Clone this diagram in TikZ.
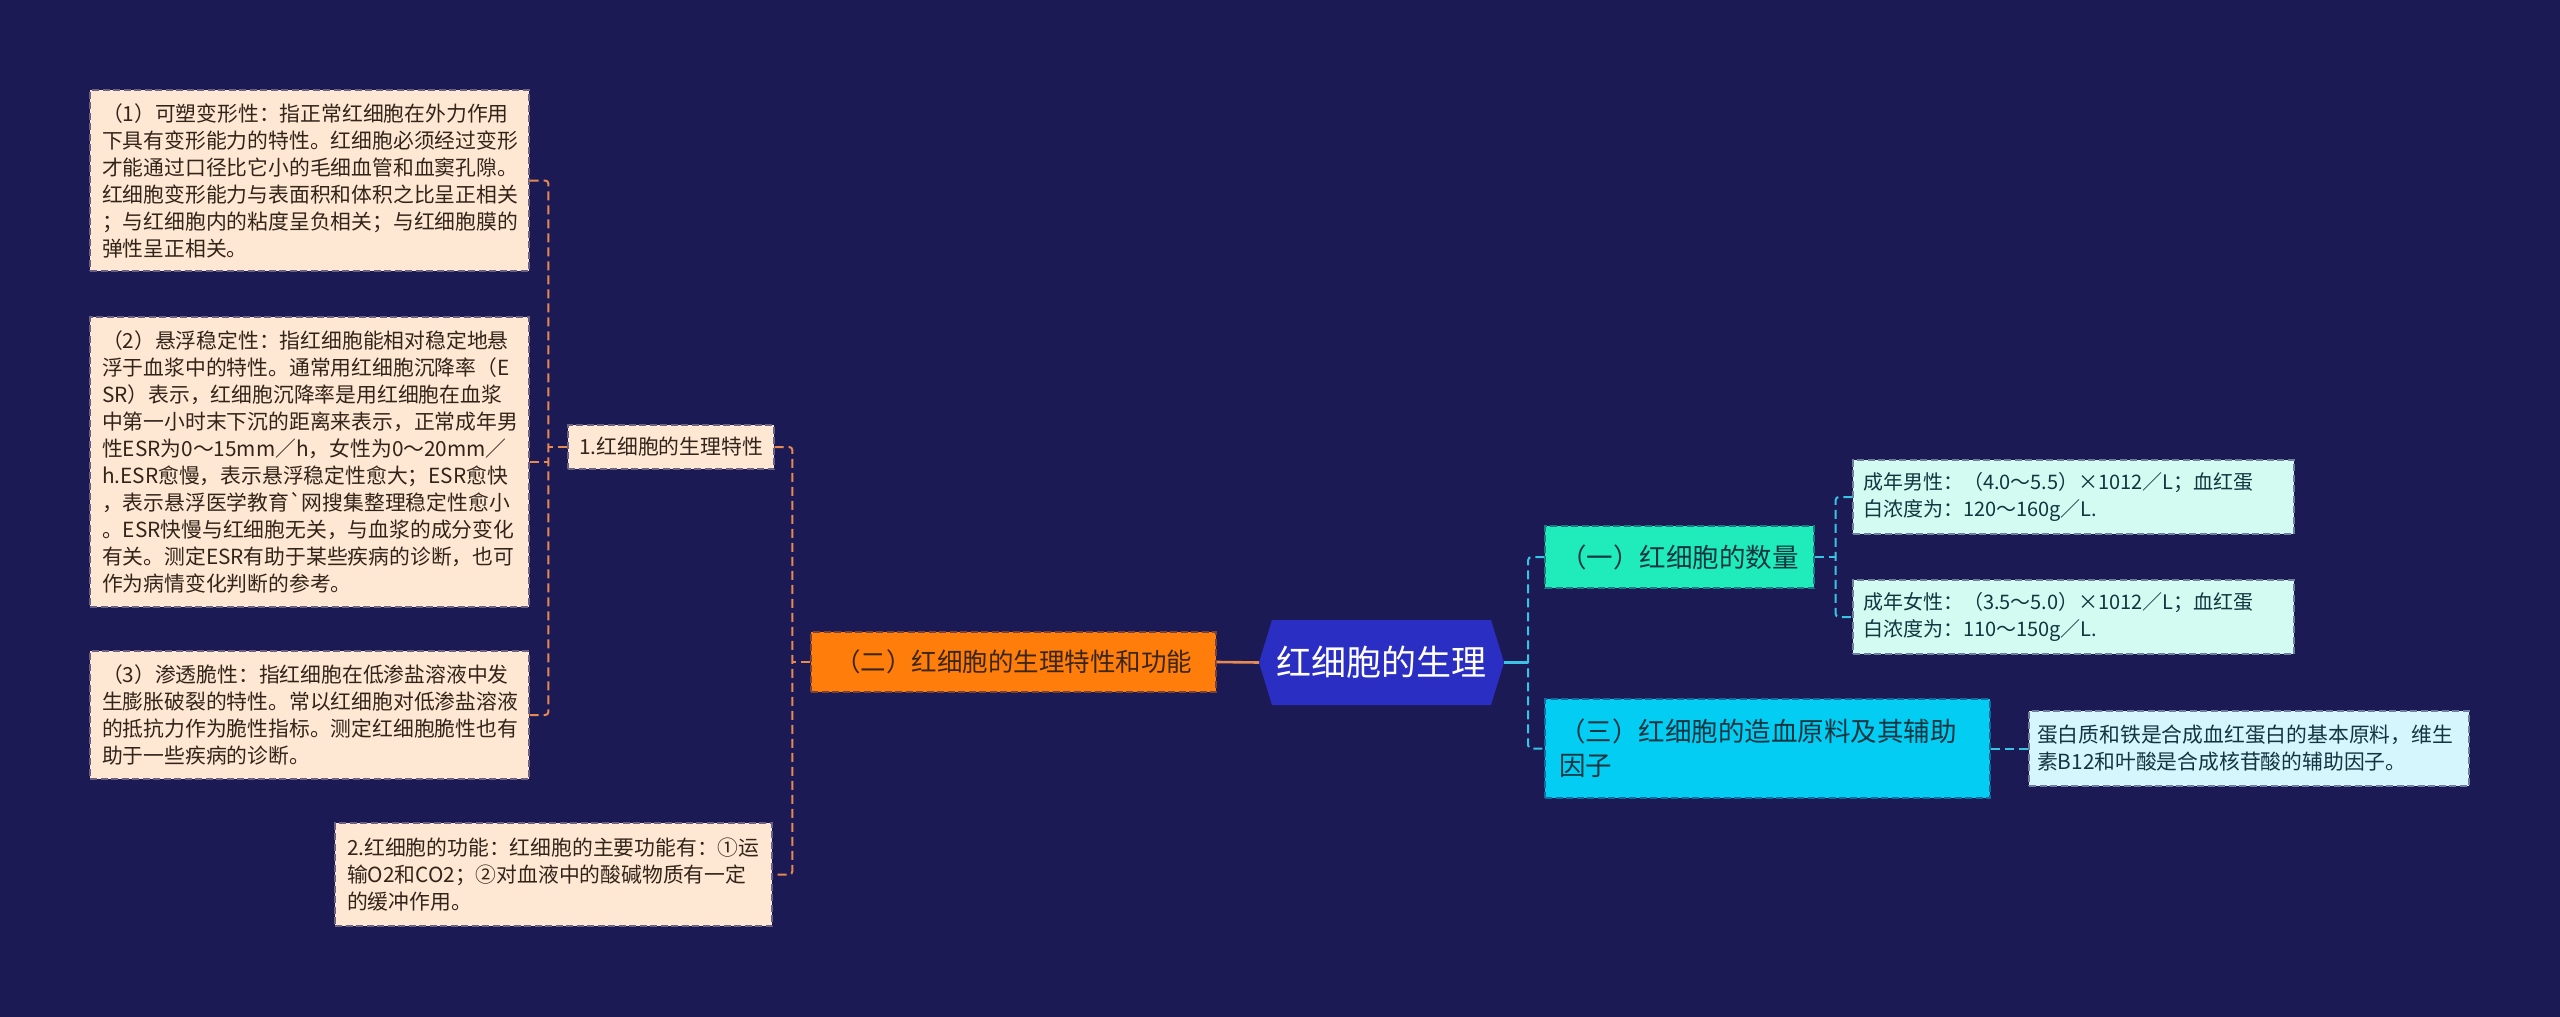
\documentclass[tikz,border=0pt]{standalone}
\usepackage{fontspec}
\setmainfont{Noto Sans CJK SC}
\usetikzlibrary{calc}
\definecolor{bgc}{HTML}{1C1A55}
\definecolor{peachc}{HTML}{FEE8D3}
\definecolor{peacht}{HTML}{33241A}
\definecolor{orangec}{HTML}{FF7D0A}
\definecolor{oranget}{HTML}{3A2614}
\definecolor{rootc}{HTML}{2B2EC2}
\definecolor{greenc}{HTML}{20ECBB}
\definecolor{cyanc}{HTML}{04CDF3}
\definecolor{mintc}{HTML}{D4FBF1}
\definecolor{lcyanc}{HTML}{D6F6FD}
\definecolor{darkt}{HTML}{123540}
\definecolor{lcol}{HTML}{E88A4F}
\definecolor{rcol}{HTML}{39C4E3}
\tikzset{
  basebox/.style={rectangle, line width=1.4pt, dash pattern=on 7pt off 3.5pt, inner ysep=0pt, align=left},
  peachbox/.style={basebox, fill=peachc, draw=bgc!65!peachc, text=peacht, inner xsep=12pt, font=\fontsize{20.8}{27}\selectfont},
  mintbox/.style={basebox, fill=mintc, draw=bgc!55!mintc, text=darkt, inner xsep=10pt, font=\fontsize{20}{27}\selectfont},
  lcyanbox/.style={basebox, fill=lcyanc, draw=bgc!55!lcyanc, text=darkt, inner xsep=8pt, font=\fontsize{20.8}{27}\selectfont},
  orangebox/.style={basebox, fill=orangec, draw=bgc!60!orangec, text=oranget, inner xsep=12pt, font=\fontsize{25.5}{32}\selectfont},
  greenbox/.style={basebox, fill=greenc, draw=bgc!55!greenc, text=darkt, inner xsep=14pt, font=\fontsize{26.5}{34}\selectfont},
  cyanbox/.style={basebox, fill=cyanc, draw=bgc!55!cyanc, text=darkt, inner xsep=14pt, font=\fontsize{26.5}{34}\selectfont},
  rootnode/.style={rectangle, inner sep=0pt, text=white, font=\fontsize{35}{40}\selectfont,
    path picture={\fill[rootc] ([xshift=13pt]path picture bounding box.north west) -- ([xshift=-13pt]path picture bounding box.north east) -- (path picture bounding box.east) -- ([xshift=-13pt]path picture bounding box.south east) -- ([xshift=13pt]path picture bounding box.south west) -- (path picture bounding box.west) -- cycle;}},
  lconn/.style={draw=lcol, line width=2pt, dash pattern=on 9pt off 5pt, rounded corners=3pt},
  rconn/.style={draw=rcol, line width=2pt, dash pattern=on 9pt off 5pt, rounded corners=3pt},
}
\begin{document}
\begin{tikzpicture}[x=1pt,y=-1pt]
\fill[bgc] (0,0) rectangle (2560,1017);
\useasboundingbox (0,0) rectangle (2560,1017);

% left detail boxes
\node[peachbox, minimum width=439pt, minimum height=181pt, text width=415pt] (b1) at (309.5,180.5) {（1）可塑变形性：指正常红细胞在外力作用\\下具有变形能力的特性。红细胞必须经过变形\\才能通过口径比它小的毛细血管和血窦孔隙。\\红细胞变形能力与表面积和体积之比呈正相关\\；与红细胞内的粘度呈负相关；与红细胞膜的\\弹性呈正相关。};
\node[peachbox, minimum width=439pt, minimum height=290pt, text width=415pt] (b2) at (309.5,462) {（2）悬浮稳定性：指红细胞能相对稳定地悬\\浮于血浆中的特性。通常用红细胞沉降率（E\\SR）表示，红细胞沉降率是用红细胞在血浆\\中第一小时末下沉的距离来表示，正常成年男\\性ESR为0～15mm／h，女性为0～20mm／\\h.ESR愈慢，表示悬浮稳定性愈大；ESR愈快\\，表示悬浮医学教育\textasciigrave 网搜集整理稳定性愈小\\。ESR快慢与红细胞无关，与血浆的成分变化\\有关。测定ESR有助于某些疾病的诊断，也可\\作为病情变化判断的参考。};
\node[peachbox, minimum width=439pt, minimum height=128pt, text width=415pt] (b3) at (309.5,715) {（3）渗透脆性：指红细胞在低渗盐溶液中发\\生膨胀破裂的特性。常以红细胞对低渗盐溶液\\的抵抗力作为脆性指标。测定红细胞脆性也有\\助于一些疾病的诊断。};

\node[peachbox, minimum width=206pt, minimum height=44pt, inner xsep=8pt] (sub1) at (671,447) {1.红细胞的生理特性};
\node[peachbox, minimum width=437pt, minimum height=103pt, text width=413pt] (sub2) at (553.5,874.5) {2.红细胞的功能：红细胞的主要功能有：①运\\输O2和CO2；②对血液中的酸碱物质有一定\\的缓冲作用。};

% main branches
\node[orangebox, minimum width=405pt, minimum height=60pt] (orn) at (1013.5,662) {（二）红细胞的生理特性和功能};
\node[rootnode, minimum width=245pt, minimum height=85pt] (root) at (1381.5,662.5) {红细胞的生理};
\node[greenbox, minimum width=269pt, minimum height=62pt] (g1) at (1679.5,557) {（一）红细胞的数量};
\node[cyanbox, minimum width=445pt, minimum height=99pt, text width=417pt] (c3) at (1767.5,748.5) {（三）红细胞的造血原料及其辅助\\因子};

% right detail boxes
\node[mintbox, minimum width=441pt, minimum height=74pt, text width=421pt] (m) at (2073.5,497) {成年男性：（4.0～5.5）×1012／L；血红蛋\\白浓度为：120～160g／L.};
\node[mintbox, minimum width=441pt, minimum height=74pt, text width=421pt] (f) at (2073.5,617) {成年女性：（3.5～5.0）×1012／L；血红蛋\\白浓度为：110～150g／L.};
\node[lcyanbox, minimum width=440pt, minimum height=75pt, text width=424pt] (p) at (2249,748.5) {蛋白质和铁是合成血红蛋白的基本原料，维生\\素B12和叶酸是合成核苷酸的辅助因子。};

% connectors left
\coordinate (s1) at ([xshift=-19pt]sub1.west);
\draw[lconn] (b1.east) -| (s1) |- (b3.east);
\draw[lconn] (sub1.west) -- (s1);
\draw[lconn] (b2.east) -- (b2.east -| s1);

\coordinate (s2) at ([xshift=-18pt]orn.west);
\draw[lconn] (sub1.east) -| (s2) |- (sub2.east);
\draw[lconn] (orn.west) -- (s2);

\draw[draw=lcol, line width=2.6pt] (root.west) -- (orn.east);

% connectors right
\coordinate (s3) at ([xshift=24pt]root.east);
\draw[draw=rcol, line width=2.6pt] (root.east) -- (s3);
\draw[rconn] (g1.west) -| (s3) |- (c3.west);

\coordinate (s4) at ([xshift=21pt]g1.east);
\draw[rconn] (m.west) -| (s4) |- (f.west);
\draw[rconn] (g1.east) -- (s4);

\draw[rconn] (c3.east) -- (c3.east -| p.west);
\end{tikzpicture}
\end{document}
